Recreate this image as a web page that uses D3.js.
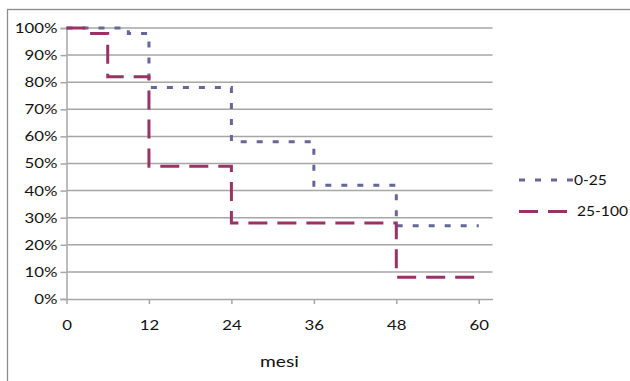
<!DOCTYPE html>
<html>
<head>
<meta charset="utf-8">
<script src="https://cdn.jsdelivr.net/npm/d3@7"></script>
<style>
  body { margin: 0; background: #fff; }
  svg { display: block; }
  svg text { font-family: Lato, "Open Sans", sans-serif; }
</style>
</head>
<body>
<svg id="chart" width="630" height="381"></svg>
<script>
// dati di sopravvivenza (mesi, frazione)
const seriesNames = ["0-25", "25-100"];
const mesi025 = [0, 9, 12, 24, 36, 48, 60];
const surv025 = [1.00, 0.98, 0.78, 0.58, 0.42, 0.27, 0.27];
const mesi25100 = [0, 3, 6, 12, 24, 48, 60];
const surv25100 = [1.00, 0.98, 0.82, 0.49, 0.28, 0.08, 0.08];
const xTicks = [0, 12, 24, 36, 48, 60];
const yTicks = [0, 0.1, 0.2, 0.3, 0.4, 0.5, 0.6, 0.7, 0.8, 0.9, 1.0];

const colors = ["#666699", "#993366"];
const dashes = ["6,10", "19,10"];

// il testo dell'originale e' un po' allargato in orizzontale
const stretchX = 1.2;
function stretch(sel) {
    sel.attr("transform", function() {
        const x0 = +this.getAttribute("x") || 0;
        return `translate(${x0},0) scale(${stretchX},1) translate(${-x0},0)`;
    });
}

const svg = d3.select("#chart");

// cornice esterna
svg.append("rect")
    .attr("x", 7.5).attr("y", 9.5)
    .attr("width", 630).attr("height", 380)
    .attr("fill", "none")
    .attr("stroke", "#8c8c8c")
    .attr("stroke-width", 1.3);

const plotLeft = 66.5, plotRight = 492.5, plotTop = 28, plotBottom = 299;

const x = d3.scaleLinear().domain([0, 62]).range([plotLeft, plotRight]);
const y = d3.scaleLinear().domain([0, 1]).range([plotBottom, plotTop]);

// griglia orizzontale
svg.append("g")
    .selectAll("line")
    .data(yTicks.filter(d => d > 0))
    .enter().append("line")
    .attr("x1", plotLeft).attr("x2", plotRight)
    .attr("y1", d => y(d)).attr("y2", d => y(d))
    .attr("stroke", "#a6a6a6")
    .attr("stroke-width", 1.5);

// asse Y
const yAxis = svg.append("g")
    .attr("transform", `translate(${plotLeft},0)`)
    .call(d3.axisLeft(y).tickValues(yTicks).tickFormat(d3.format(".0%")).tickSize(6).tickPadding(3));
yAxis.attr("font-family", null).attr("font-size", null);
yAxis.select(".domain").attr("stroke", "#a6a6a6").attr("stroke-width", 1.5);
yAxis.selectAll(".tick line").attr("stroke", "#a6a6a6").attr("stroke-width", 1.5);
yAxis.selectAll("text").attr("fill", "#111").style("font-size", "14px").call(stretch);

// asse X
const xAxis = svg.append("g")
    .attr("transform", `translate(0,${plotBottom})`)
    .call(d3.axisBottom(x).tickValues(xTicks).tickSize(5).tickSizeOuter(0).tickPadding(16));
xAxis.attr("font-family", null).attr("font-size", null);
xAxis.select(".domain").attr("stroke", "#a6a6a6").attr("stroke-width", 1.5);
xAxis.selectAll(".tick line").attr("stroke", "#a6a6a6").attr("stroke-width", 1.5);
xAxis.selectAll("text").attr("fill", "#111").style("font-size", "14px").call(stretch);

svg.append("text")
    .attr("x", (plotLeft + plotRight) / 2)
    .attr("y", 367)
    .attr("text-anchor", "middle")
    .attr("fill", "#111")
    .style("font-size", "16px")
    .text("mesi")
    .call(stretch);

// curve a gradini
const line = d3.line()
    .x(d => x(d[0]))
    .y(d => y(d[1]))
    .curve(d3.curveStepAfter);

const series = [
    d3.zip(mesi025, surv025),
    d3.zip(mesi25100, surv25100)
];

series.forEach((s, i) => {
    svg.append("path")
        .datum(s)
        .attr("d", line)
        .attr("fill", "none")
        .attr("stroke", colors[i])
        .attr("stroke-width", 3)
        .attr("stroke-dasharray", dashes[i]);
});

// legenda
const legend = svg.append("g").attr("transform", "translate(519,180)");
seriesNames.forEach((name, i) => {
    const row = legend.append("g").attr("transform", `translate(0,${i * 31.5})`);
    row.append("line")
        .attr("x1", 0).attr("x2", 54)
        .attr("y1", 0).attr("y2", 0)
        .attr("stroke", colors[i])
        .attr("stroke-width", 3)
        .attr("stroke-dasharray", dashes[i]);
    row.append("text")
        .attr("x", i === 0 ? 55 : 58)
        .attr("y", 0)
        .attr("dy", "0.35em")
        .attr("fill", "#111")
        .style("font-size", "13px")
        .text(name)
        .call(stretch);
});
</script>
</body>
</html>
